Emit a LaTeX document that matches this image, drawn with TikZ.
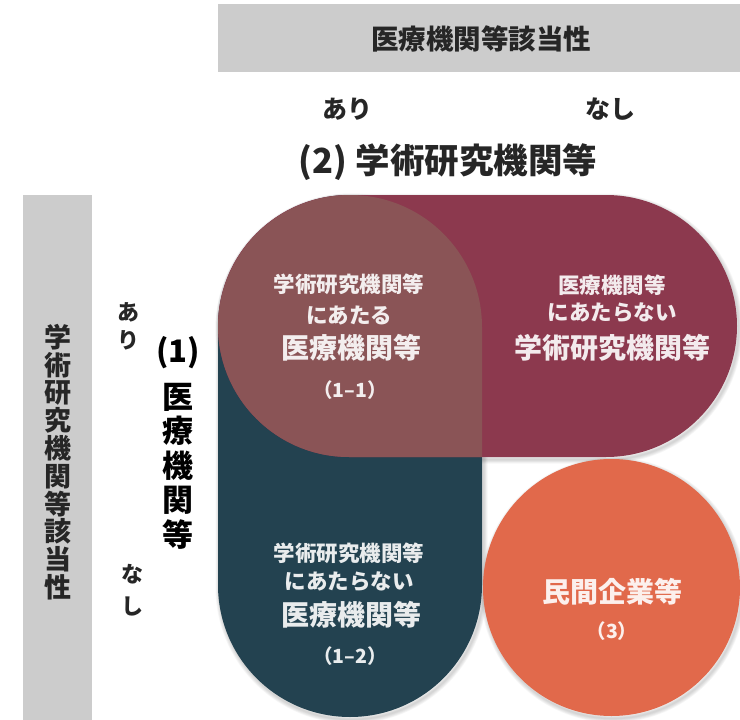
\documentclass[tikz,border=0pt]{standalone}
\usepackage{fontspec}
\setmainfont{Noto Sans CJK JP}
\definecolor{crim}{RGB}{140,57,78}
\definecolor{ovl}{RGB}{138,84,86}
\definecolor{tealdk}{RGB}{35,66,80}
\definecolor{orng}{RGB}{225,105,75}
\definecolor{barg}{RGB}{204,204,204}
\begin{document}
\begin{tikzpicture}[x=1pt,y=-1pt,
  barbox/.style={fill=barg},
  vlabel/.style={text=black,align=center},
  intext/.style={text=white,text opacity=0.9},
  smalltxt/.style={intext,font=\fontsize{21.5}{21.5}\selectfont\bfseries},
  bigtxt/.style={intext,font=\fontsize{28}{28}\selectfont\bfseries},
  numtxt/.style={intext,font=\fontsize{19.5}{19.5}\selectfont\bfseries},
  shade/.style={draw=black,draw opacity=0.035,fill=none},
]
\useasboundingbox (0,0) rectangle (740,720);
% gray bars
\fill[barbox] (218,4) rectangle (740,72);
\fill[barbox] (23,195) rectangle (92,720);
\node[text=black!85,font=\fontsize{27.5}{27.5}\selectfont\bfseries] (toplabel) at (481,39) {医療機関等該当性};
\node[vlabel,text=black!85,font=\fontsize{27}{27.8}\selectfont\bfseries] (leftlabel) at (58,462) {学\\術\\研\\究\\機\\関\\等\\該\\当\\性};
% column / row labels
\node[text=black!85,font=\fontsize{25}{25}\selectfont\bfseries] (colyes) at (347,109) {あり};
\node[text=black!85,font=\fontsize{25}{25}\selectfont\bfseries] (colno) at (610,109) {なし};
\node[text=black!85,font=\fontsize{34.5}{34.5}\selectfont\bfseries] (acad) at (448,162) {(2) 学術研究機関等};
\node[vlabel,text=black!85,font=\fontsize{22}{28}\selectfont\bfseries] (rowyes) at (128,326) {あ\\り};
\node[vlabel,text=black!85,font=\fontsize{22}{32}\selectfont\bfseries] (rowno) at (132,590) {な\\し};
\node[text=black,font=\fontsize{31}{31}\selectfont\bfseries] (one) at (178,353) {(1)};
\node[vlabel,font=\fontsize{31}{34.5}\selectfont\bfseries] (med) at (178,466) {医\\療\\機\\関\\等};
% soft shadows
\foreach \k in {1,...,5}{
  \draw[shade,line width=1.6*\k pt,rounded corners=132pt] (219.5,197.5) rectangle (483.5,719.5);
  \draw[shade,line width=1.6*\k pt,rounded corners=131pt] (219.5,197.5) rectangle (738.5,459.5);
  \draw[shade,line width=1.6*\k pt] (613,590) circle (128.5);
}
% shapes
\fill[tealdk,rounded corners=132pt] (218,195) rectangle (482,717);
\fill[crim,rounded corners=131pt] (218,195) rectangle (737,457);
\begin{scope}
  \clip[rounded corners=132pt] (218,195) rectangle (482,717);
  \fill[ovl,rounded corners=131pt] (218,195) rectangle (737,457);
\end{scope}
\fill[orng] (611.5,587.5) circle (128.5);
% overlap texts
\node[smalltxt] (a1) at (349,284) {学術研究機関等};
\node[smalltxt] (a2) at (349,315) {にあたる};
\node[bigtxt] (a3) at (351,348) {医療機関等};
\node[numtxt] (a4) at (350,390) {（1–1）};
% crimson texts
\node[smalltxt] (b1) at (612,285) {医療機関等};
\node[smalltxt] (b2) at (612,313) {にあたらない};
\node[bigtxt] (b3) at (612,348) {学術研究機関等};
% teal texts
\node[smalltxt] (c1) at (349,553) {学術研究機関等};
\node[smalltxt] (c2) at (349,582) {にあたらない};
\node[bigtxt] (c3) at (351,615) {医療機関等};
\node[numtxt] (c4) at (350,656) {（1–2）};
% orange texts
\node[bigtxt] (d1) at (612,592) {民間企業等};
\node[numtxt] (d2) at (612,631) {（3）};
\end{tikzpicture}
\end{document}
